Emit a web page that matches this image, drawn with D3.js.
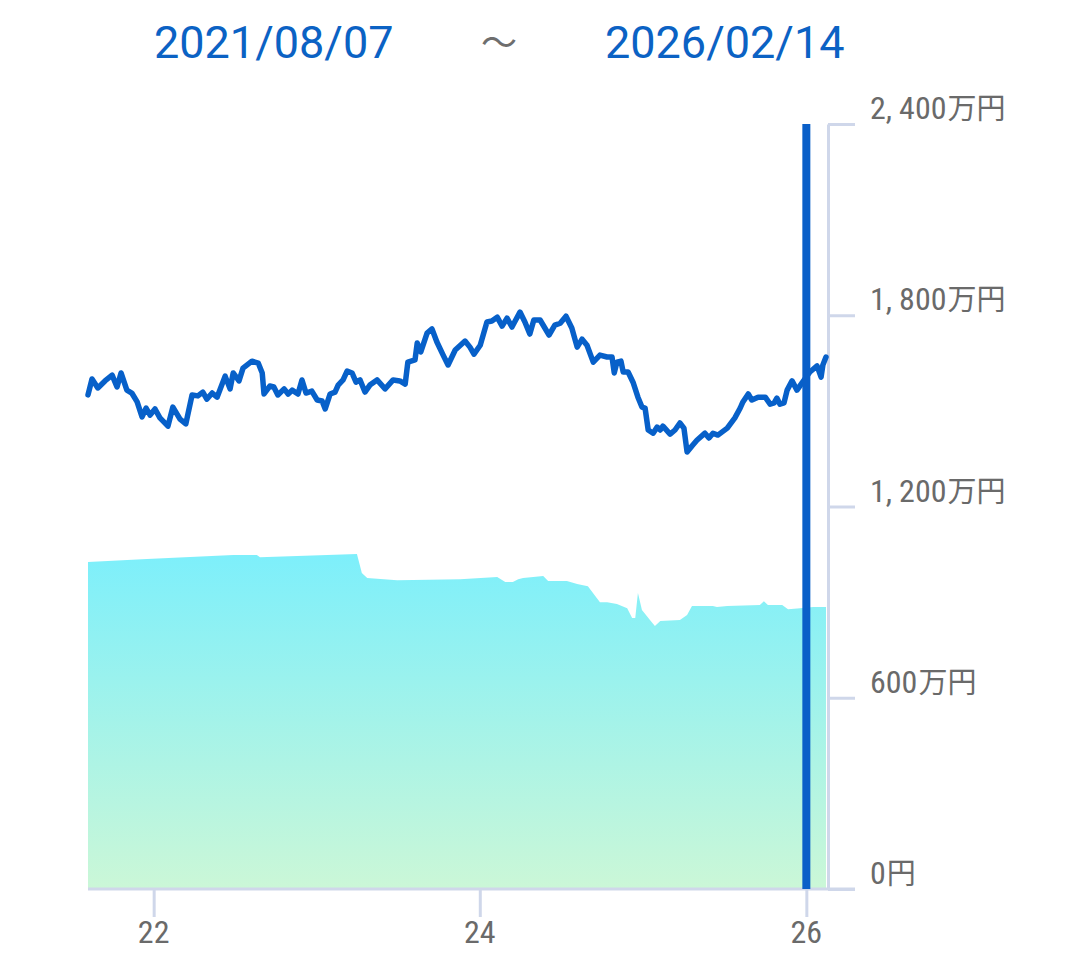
<!DOCTYPE html>
<html><head><meta charset="utf-8">
<script src="https://cdn.jsdelivr.net/npm/d3@7"></script>
<style>
html,body{margin:0;padding:0;background:#fff;}
svg{display:block;}
</style></head>
<body>
<svg id="chart" width="1080" height="965"></svg>
<script>
// ---- data ----
const startLabel = "2021/08/07";
const endLabel = "2026/02/14";
const domainStart = "2021-08-07";
const domainEnd = "2026-02-14";
const markerDate = "2026-01-01";

const lineDates = ["2021-08-07","2021-08-16","2021-08-29","2021-09-14","2021-09-30","2021-10-11","2021-10-20","2021-11-02","2021-11-13","2021-11-25","2021-12-06","2021-12-15","2021-12-24","2022-01-04","2022-01-15","2022-02-02","2022-02-13","2022-03-01","2022-03-14","2022-03-28","2022-04-10","2022-04-21","2022-04-30","2022-05-12","2022-05-23","2022-06-10","2022-06-21","2022-06-28","2022-07-11","2022-07-20","2022-08-09","2022-08-23","2022-09-01","2022-09-05","2022-09-18","2022-09-27","2022-10-06","2022-10-20","2022-10-29","2022-11-07","2022-11-20","2022-11-29","2022-12-08","2022-12-21","2023-01-02","2023-01-13","2023-01-20","2023-01-31","2023-02-11","2023-02-18","2023-03-01","2023-03-10","2023-03-21","2023-03-30","2023-04-08","2023-04-19","2023-04-30","2023-05-16","2023-06-03","2023-06-21","2023-07-06","2023-07-18","2023-07-24","2023-08-09","2023-08-14","2023-08-22","2023-09-05","2023-09-16","2023-09-27","2023-10-11","2023-10-22","2023-11-07","2023-11-29","2023-12-10","2023-12-19","2024-01-02","2024-01-17","2024-01-28","2024-02-09","2024-02-20","2024-03-02","2024-03-13","2024-03-31","2024-04-11","2024-04-22","2024-05-01","2024-05-15","2024-06-04","2024-06-17","2024-06-29","2024-07-12","2024-07-25","2024-08-06","2024-08-17","2024-08-28","2024-09-11","2024-09-26","2024-10-12","2024-10-23","2024-10-28","2024-11-03","2024-11-12","2024-11-17","2024-11-28","2024-12-09","2024-12-20","2024-12-29","2025-01-05","2025-01-12","2025-01-23","2025-02-01","2025-02-08","2025-02-14","2025-03-02","2025-03-13","2025-03-24","2025-04-02","2025-04-09","2025-04-20","2025-05-01","2025-05-19","2025-05-28","2025-06-06","2025-06-17","2025-07-08","2025-07-25","2025-08-06","2025-08-12","2025-08-24","2025-09-01","2025-09-15","2025-10-01","2025-10-12","2025-10-21","2025-10-27","2025-11-03","2025-11-12","2025-11-19","2025-11-30","2025-12-11","2025-12-22","2026-01-09","2026-01-25","2026-02-03","2026-02-07","2026-02-14"];
const lineValues = [1550,1600,1572,1594,1612,1575,1619,1565,1556,1528,1481,1509,1487,1506,1478,1452,1512,1474,1459,1550,1547,1559,1537,1556,1543,1609,1569,1619,1594,1634,1656,1650,1619,1553,1578,1575,1550,1569,1553,1565,1553,1597,1556,1562,1534,1531,1506,1553,1559,1581,1597,1625,1619,1590,1597,1559,1581,1597,1569,1597,1594,1584,1653,1660,1713,1685,1744,1757,1716,1675,1644,1691,1719,1700,1678,1706,1779,1782,1794,1766,1791,1763,1810,1779,1741,1785,1785,1738,1769,1775,1797,1760,1700,1725,1706,1653,1675,1669,1669,1619,1653,1656,1622,1622,1590,1543,1512,1509,1440,1430,1449,1440,1452,1427,1440,1462,1446,1371,1390,1408,1430,1415,1430,1424,1446,1478,1509,1528,1553,1534,1543,1543,1521,1525,1540,1521,1525,1565,1594,1565,1587,1622,1641,1606,1644,1669];

const areaDates = ["2021-08-07","2021-12-17","2022-06-28","2022-08-20","2022-08-27","2023-04-01","2023-04-12","2023-04-24","2023-06-30","2023-11-18","2024-02-09","2024-02-27","2024-03-15","2024-03-27","2024-04-07","2024-05-22","2024-06-02","2024-07-14","2024-08-06","2024-08-30","2024-09-26","2024-10-12","2024-11-03","2024-11-26","2024-12-07","2024-12-14","2024-12-20","2024-12-29","2025-01-16","2025-01-27","2025-02-08","2025-03-24","2025-04-09","2025-04-20","2025-06-06","2025-06-15","2025-07-08","2025-09-19","2025-09-28","2025-10-07","2025-11-08","2025-11-21","2025-12-18","2026-01-16","2026-02-14"];
const areaValues = [1026,1035,1048,1048,1041,1051,991,976,969,972,979,963,963,972,976,982,966,966,957,950,900,900,894,881,850,850,929,875,844,825,841,844,860,888,888,885,888,891,903,891,891,878,881,885,885];

const yTickValues = [0, 600, 1200, 1800, 2400];
const xTickYears = ["2022-01-01", "2024-01-01", "2026-01-01"];

// ---- setup ----
const parse = d3.timeParse("%Y-%m-%d");
const svg = d3.select("#chart");

const x = d3.scaleTime().domain([parse(domainStart), parse(domainEnd)]).range([88, 826]);
const y = d3.scaleLinear().domain([0, 2400]).range([889, 124]);
const axisX = 828;
const axisColor = "#cfd7ea";

const lineData = lineDates.map((d, i) => ({date: parse(d), value: lineValues[i]}));
const areaData = areaDates.map((d, i) => ({date: parse(d), value: areaValues[i]}));

// gradient
const defs = svg.append("defs");
const grad = defs.append("linearGradient").attr("id", "areaGrad")
  .attr("x1", 0).attr("y1", 0).attr("x2", 0).attr("y2", 1);
grad.append("stop").attr("offset", "0%").attr("stop-color", "#7deffb");
grad.append("stop").attr("offset", "100%").attr("stop-color", "#cbf7d7");

// area
svg.append("path").datum(areaData)
  .attr("fill", "url(#areaGrad)")
  .attr("d", d3.area().x(d => x(d.date)).y0(y(0)).y1(d => y(d.value)));

// right axis
const yAxis = d3.axisRight(y).tickValues(yTickValues).tickSize(27).tickSizeOuter(0).tickFormat("");
const gy = svg.append("g").attr("transform", `translate(${axisX},0)`).call(yAxis);
gy.selectAll("path, line").attr("stroke", axisColor).attr("stroke-width", 3);

// bottom axis
const xAxis = d3.axisBottom(x).tickValues(xTickYears.map(parse)).tickSize(28).tickSizeOuter(0).tickFormat("");
const gx = svg.append("g").attr("transform", `translate(0,${y(0)})`).call(xAxis);
gx.select(".domain").remove();
gx.selectAll("line").attr("stroke", axisColor).attr("stroke-width", 3);
svg.append("line").attr("x1", x.range()[0]).attr("x2", axisX + 27)
  .attr("y1", y(0)).attr("y2", y(0)).attr("stroke", axisColor).attr("stroke-width", 3);

// y labels
const fmt = d3.format(",");
const labelFont = "'Liberation Sans Narrow', 'Roboto Condensed', 'Noto Sans', sans-serif";
const yl = svg.append("g");
yTickValues.forEach(v => {
  const t = yl.append("text").attr("x", axisX + 42).attr("y", y(v) - 5)
    .attr("fill", "#6a6a6a").attr("font-family", labelFont).attr("font-size", 32);
  if (v === 0) {
    t.append("tspan").text("0");
    t.append("tspan").attr("font-family", "'Noto Sans CJK JP', sans-serif").attr("font-size", 29).attr("dx", 1).text("円");
  } else {
    const parts = fmt(v).split(",");
    if (parts.length > 1) {
      t.append("tspan").text(parts[0] + ",");
      t.append("tspan").attr("dx", 7).text(parts[1]);
    } else {
      t.append("tspan").text(parts[0]);
    }
    t.append("tspan").attr("font-family", "'Noto Sans CJK JP', sans-serif").attr("font-size", 29).attr("dx", 1).text("万円");
  }
});

// x labels
const xf = d3.timeFormat("%y");
svg.append("g").selectAll("text").data(xTickYears.map(parse)).join("text")
  .attr("x", d => x(d)).attr("y", 943).attr("text-anchor", "middle")
  .attr("fill", "#6a6a6a").attr("font-family", labelFont).attr("font-size", 32)
  .text(d => xf(d));

// line
svg.append("path").datum(lineData)
  .attr("fill", "none").attr("stroke", "#0760c9").attr("stroke-width", 5.5)
  .attr("stroke-linejoin", "round").attr("stroke-linecap", "round")
  .attr("d", d3.line().x(d => x(d.date)).y(d => y(d.value)));

// marker bar
svg.append("line").attr("x1", x(parse(markerDate))).attr("x2", x(parse(markerDate)))
  .attr("y1", y(2400)).attr("y2", y(0)).attr("stroke", "#0a5fc8").attr("stroke-width", 8);

// title
const titleFont = "Roboto, 'Noto Sans', sans-serif";
svg.append("text").attr("x", 154).attr("y", 58).attr("fill", "#0b62c4")
  .attr("font-family", titleFont).attr("font-size", 45).text(startLabel);
svg.append("text").attr("x", 499).attr("y", 56).attr("text-anchor", "middle").attr("fill", "#6e6e6e")
  .attr("font-family", "'Noto Sans CJK JP', sans-serif").attr("font-size", 36).text("〜");
svg.append("text").attr("x", 605).attr("y", 58).attr("fill", "#0b62c4")
  .attr("font-family", titleFont).attr("font-size", 45).text(endLabel);
</script>
</body></html>
